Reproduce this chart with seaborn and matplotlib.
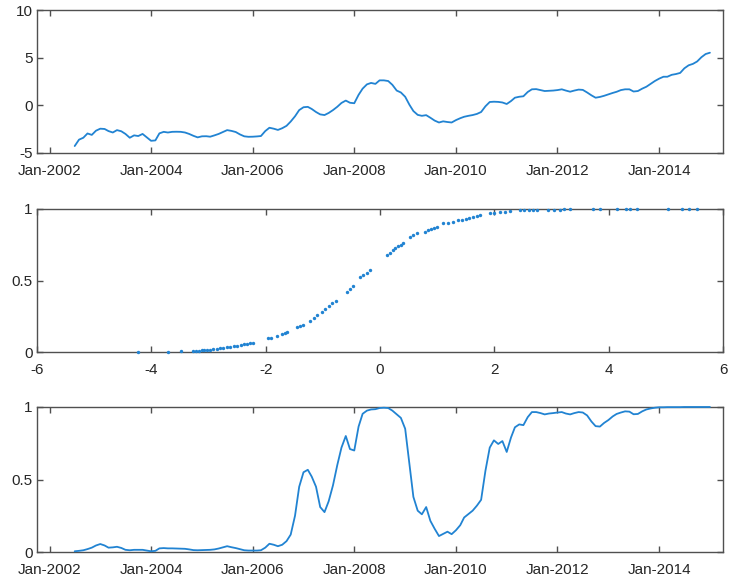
import numpy as np
import pandas as pd
import matplotlib
matplotlib.use("Agg")
import matplotlib.pyplot as plt
import matplotlib.dates as mdates
import seaborn as sns

# ---------------- data ----------------
start_month = "2002-07-01"

index_values = [
    -4.27, -3.6, -3.4, -2.95, -3.1, -2.66, -2.45, -2.48, -2.7, -2.85,
    -2.6, -2.72, -3.0, -3.4, -3.15, -3.22, -3.0, -3.35, -3.72, -3.68,
    -2.94, -2.78, -2.85, -2.78, -2.77, -2.78, -2.85, -3.0, -3.2, -3.36,
    -3.25, -3.24, -3.29, -3.15, -3.0, -2.8, -2.6, -2.68, -2.8, -3.05,
    -3.25, -3.3, -3.29, -3.26, -3.22, -2.7, -2.35, -2.45, -2.58, -2.4,
    -2.15, -1.7, -1.15, -0.5, -0.2, -0.16, -0.38, -0.7, -0.95, -1.02,
    -0.8, -0.5, -0.15, 0.25, 0.5, 0.27, 0.22, 1.1, 1.75, 2.2,
    2.35, 2.25, 2.62, 2.62, 2.55, 2.15, 1.55, 1.35, 0.9, 0.05,
    -0.6, -1.0, -1.1, -1.03, -1.3, -1.6, -1.8, -1.68, -1.75, -1.8,
    -1.55, -1.35, -1.2, -1.1, -1.02, -0.9, -0.7, -0.1, 0.35, 0.38,
    0.36, 0.3, 0.14, 0.45, 0.8, 0.9, 0.95, 1.4, 1.68, 1.7,
    1.6, 1.5, 1.52, 1.55, 1.6, 1.68, 1.55, 1.43, 1.55, 1.65,
    1.62, 1.35, 1.05, 0.8, 0.88, 1.0, 1.15, 1.3, 1.42, 1.6,
    1.68, 1.68, 1.45, 1.5, 1.75, 1.95, 2.25, 2.55, 2.8, 3.0,
    3.0, 3.2, 3.28, 3.4, 3.88, 4.2, 4.35, 4.6, 5.05, 5.38, 5.52,
]

prob_values = [
    0.005, 0.008, 0.012, 0.02, 0.03, 0.045, 0.055, 0.045, 0.03, 0.032,
    0.036, 0.028, 0.015, 0.012, 0.015, 0.015, 0.015, 0.01, 0.005, 0.008,
    0.025, 0.027, 0.025, 0.025, 0.024, 0.023, 0.022, 0.018, 0.013, 0.012,
    0.013, 0.014, 0.015, 0.018, 0.024, 0.032, 0.04, 0.033, 0.027, 0.02,
    0.012, 0.01, 0.01, 0.01, 0.012, 0.03, 0.057, 0.05, 0.04, 0.05,
    0.075, 0.12, 0.25, 0.45, 0.55, 0.567, 0.52, 0.45, 0.31, 0.275,
    0.35, 0.46, 0.6, 0.72, 0.8, 0.71, 0.7, 0.865, 0.953, 0.975,
    0.983, 0.985, 0.993, 0.995, 0.993, 0.975, 0.95, 0.925, 0.85, 0.6,
    0.38, 0.285, 0.26, 0.31, 0.215, 0.16, 0.11, 0.125, 0.14, 0.123,
    0.15, 0.185, 0.238, 0.262, 0.285, 0.32, 0.36, 0.56, 0.72, 0.77,
    0.745, 0.765, 0.69, 0.79, 0.86, 0.88, 0.875, 0.93, 0.965, 0.965,
    0.958, 0.949, 0.955, 0.958, 0.962, 0.965, 0.955, 0.949, 0.958, 0.965,
    0.962, 0.942, 0.9, 0.868, 0.865, 0.89, 0.91, 0.935, 0.952, 0.962,
    0.97, 0.968, 0.95, 0.952, 0.97, 0.983, 0.99, 0.995, 0.998, 0.998,
    0.999, 0.999, 0.999, 0.999, 1.0, 1.0, 1.0, 1.0, 1.0, 1.0, 1.0,
]

scatter_x = [
    -4.24, -3.71, -3.48,
    -3.27, -3.22, -3.17, -3.12, -3.07, -3.02, -2.97, -2.92, -2.86, -2.80,
    -2.74, -2.68, -2.62, -2.56, -2.50, -2.44, -2.38, -2.32, -2.27, -2.22,
    -1.96, -1.90, -1.80, -1.72, -1.67, -1.63,
    -1.46, -1.40, -1.34,
    -1.23, -1.15, -1.10, -1.02, -0.96, -0.90, -0.84, -0.77,
    -0.58, -0.53, -0.47,
    -0.35, -0.29, -0.23, -0.17,
    0.12, 0.17, 0.22, 0.27, 0.32, 0.37, 0.41,
    0.52, 0.58, 0.64,
    0.79, 0.84, 0.89, 0.94, 0.99,
    1.10, 1.19, 1.28,
    1.37, 1.43, 1.50, 1.56, 1.62, 1.69, 1.75,
    1.92, 2.00, 2.10, 2.18, 2.27,
    2.45, 2.52, 2.60, 2.67, 2.74,
    2.94, 3.05, 3.15, 3.22, 3.32,
    3.73, 3.85,
    4.15, 4.30, 4.38, 4.50,
    5.04, 5.28, 5.40, 5.54,
]
scatter_y = [
    0.0, 0.003, 0.005,
    0.007, 0.008, 0.009, 0.011, 0.013, 0.015, 0.017, 0.019, 0.022, 0.025,
    0.028, 0.032, 0.036, 0.040, 0.044, 0.049, 0.053, 0.058, 0.062, 0.066,
    0.095, 0.10, 0.115, 0.128, 0.135, 0.14,
    0.175, 0.182, 0.19,
    0.22, 0.24, 0.26, 0.28, 0.30, 0.32, 0.34, 0.36,
    0.42, 0.44, 0.46,
    0.525, 0.54, 0.555, 0.573,
    0.68, 0.695, 0.71, 0.725, 0.738, 0.75, 0.76,
    0.806, 0.818, 0.83,
    0.84, 0.85, 0.86, 0.868, 0.876,
    0.90, 0.905, 0.91,
    0.92, 0.926, 0.932, 0.938, 0.944, 0.95, 0.956,
    0.97, 0.974, 0.978, 0.982, 0.986,
    0.99, 0.991, 0.992, 0.993, 0.994,
    0.995, 0.996, 0.996, 0.997, 0.997,
    0.998, 0.998,
    0.999, 0.999, 0.999, 0.999,
    1.0, 1.0, 1.0, 1.0,
]

top_yticks = [-5, 0, 5, 10]
mid_xticks = [-6, -4, -2, 0, 2, 4, 6]
prob_yticks = [0, 0.5, 1]
date_ticks = ["2002-01-01", "2004-01-01", "2006-01-01", "2008-01-01",
              "2010-01-01", "2012-01-01", "2014-01-01"]

# ---------------- build frames ----------------
dates_top = pd.date_range(start_month, periods=len(index_values), freq="MS")
dates_bot = pd.date_range(start_month, periods=len(prob_values), freq="MS")
df_top = pd.DataFrame({"date": dates_top, "value": index_values})
df_bot = pd.DataFrame({"date": dates_bot, "value": prob_values})
df_mid = pd.DataFrame({"x": scatter_x, "y": scatter_y})

# ---------------- style ----------------
sns.set_theme(style="ticks")
plt.rcParams["font.family"] = ["Liberation Sans", "DejaVu Sans"]
axis_gray = "#505050"
line_blue = "#2183d2"
plt.rcParams.update({
    "axes.unicode_minus": False,
    "axes.edgecolor": axis_gray,
    "axes.linewidth": 1.0,
    "xtick.color": axis_gray,
    "ytick.color": axis_gray,
    "xtick.labelcolor": "#262626",
    "ytick.labelcolor": "#262626",
})

fig = plt.figure(figsize=(7.29, 5.82), dpi=100)
W, H = 729, 582
def rect(l, r, t, b):
    return [l / W, 1 - b / H, (r - l) / W, (b - t) / H]

ax1 = fig.add_axes(rect(37, 723, 10, 153))
ax2 = fig.add_axes(rect(37, 723, 209, 352))
ax3 = fig.add_axes(rect(37, 723, 407, 552))

xlim_dates = (pd.Timestamp("2001-10-03"), pd.Timestamp("2015-04-05"))

sns.lineplot(data=df_top, x="date", y="value", ax=ax1, color=line_blue,
             linewidth=1.3, zorder=3)
sns.scatterplot(data=df_mid, x="x", y="y", ax=ax2, color=line_blue, s=6,
                linewidth=0, marker="o", zorder=3, clip_on=False)
sns.lineplot(data=df_bot, x="date", y="value", ax=ax3, color=line_blue,
             linewidth=1.3, zorder=3, clip_on=False)

for ax in (ax1, ax3):
    ax.set_xlim(*xlim_dates)
    ax.set_xticks(pd.to_datetime(date_ticks))
    ax.xaxis.set_major_formatter(mdates.DateFormatter("%b-%Y"))

ax1.set_ylim(-5, 10)
ax1.set_yticks(top_yticks)
ax2.set_xlim(-6, 6)
ax2.set_ylim(0, 1)
ax2.set_xticks(mid_xticks)
ax2.set_yticks(prob_yticks)
ax2.set_yticklabels(["0", "0.5", "1"])
ax3.set_ylim(0, 1)
ax3.set_yticks(prob_yticks)
ax3.set_yticklabels(["0", "0.5", "1"])

for ax in (ax1, ax2, ax3):
    ax.set_xlabel("")
    ax.set_ylabel("")
    for s in ax.spines.values():
        s.set_visible(True)
        s.set_color(axis_gray)
        s.set_zorder(2)
    ax.tick_params(axis="both", which="major", direction="in", length=4,
                   width=1.0, labelsize=11, top=True, right=True)
    ax.tick_params(axis="x", pad=8)
    ax.tick_params(axis="y", pad=3)

fig.savefig("out.png", dpi=100)
